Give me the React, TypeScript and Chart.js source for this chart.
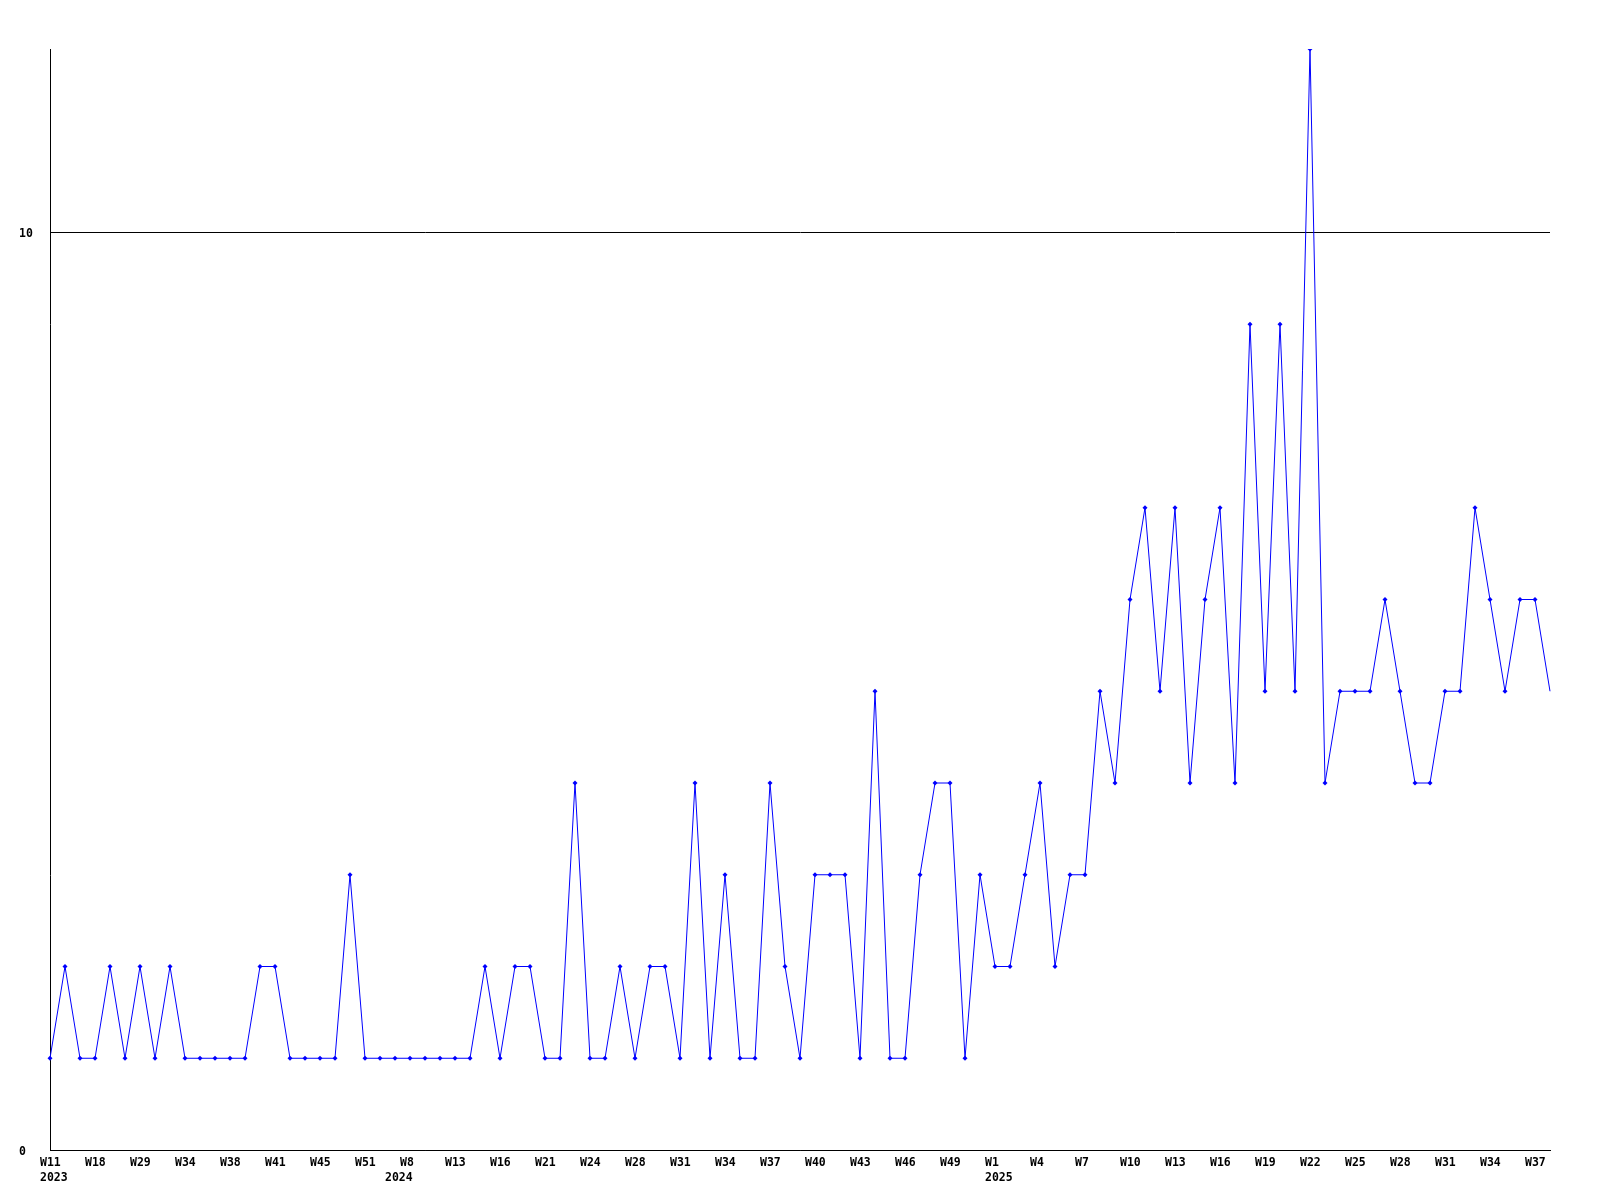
import { useEffect, useRef } from 'react';
import { Chart, registerables } from 'chart.js';

Chart.register(...registerables);

// Weekly counts, one per plotted point (101 points)
const values: number[] = [
  1, 2, 1, 1, 2, 1, 2, 1, 2, 1,
  1, 1, 1, 1, 2, 2, 1, 1, 1, 1,
  3, 1, 1, 1, 1, 1, 1, 1, 1, 2,
  1, 2, 2, 1, 1, 4, 1, 1, 2, 1,
  2, 2, 1, 4, 1, 3, 1, 1, 4, 2,
  1, 3, 3, 3, 1, 5, 1, 1, 3, 4,
  4, 1, 3, 2, 2, 3, 4, 2, 3, 3,
  5, 4, 6, 7, 5, 7, 4, 6, 7, 4,
  9, 5, 9, 5, 12, 4, 5, 5, 5, 6,
  5, 4, 4, 5, 5, 7, 6, 5, 6, 6,
  5,
];

// Week tick labels, shown on every third point
const weekTicks: string[] = [
  'W11', 'W18', 'W29', 'W34', 'W38', 'W41', 'W45', 'W51', 'W8', 'W13',
  'W16', 'W21', 'W24', 'W28', 'W31', 'W34', 'W37', 'W40', 'W43', 'W46',
  'W49', 'W1', 'W4', 'W7', 'W10', 'W13', 'W16', 'W19', 'W22', 'W25',
  'W28', 'W31', 'W34', 'W37',
];
const weekTickEvery = 3;

// Year labels and the first point of each year
const yearLabels: string[] = ['2023', '2024', '2025'];
const yearFirstPoint: number[] = [0, 23, 63];

const yMin = 0;
const yMax = 12;
const yStep = 10;

const FONT = { family: '"DejaVu Sans Mono", "Liberation Mono", monospace', size: 11.5, weight: 'bold' as const, lineHeight: 1.3 };

export default function App() {
  const ref = useRef<HTMLCanvasElement>(null);

  useEffect(() => {
    const categories = values.map((_, i) => String(i));
    const lastIndex = values.length - 1;
    const chart = new Chart(ref.current as HTMLCanvasElement, {
      type: 'line',
      data: {
        labels: categories,
        datasets: [
          {
            data: values,
            borderColor: '#0000ff',
            borderWidth: 1,
            backgroundColor: '#0000ff',
            pointStyle: 'rectRot',
            pointRadius: (c: any) => (c.dataIndex === lastIndex ? 0 : 2.5),
            pointBackgroundColor: '#0000ff',
            pointBorderColor: '#0000ff',
            pointBorderWidth: 0,
            tension: 0,
            fill: false,
          },
        ],
      },
      options: {
        animation: false,
        responsive: false,
        devicePixelRatio: 1,
        layout: { padding: { left: 19, top: 49, right: 50, bottom: 0 } },
        plugins: { legend: { display: false }, tooltip: { enabled: false } },
        scales: {
          x: {
            type: 'category',
            offset: false,
            grid: { display: false, drawTicks: false },
            border: { display: true, color: '#000000', width: 1 },
            ticks: {
              autoSkip: false,
              maxRotation: 0,
              minRotation: 0,
              align: 'start',
              labelOffset: -10,
              padding: 6,
              color: '#000000',
              font: FONT,
              callback: (_v: any, i: number) => {
                const w = i % weekTickEvery === 0 ? weekTicks[i / weekTickEvery] ?? '' : '';
                const yi = yearFirstPoint.indexOf(i);
                const y = yi >= 0 ? yearLabels[yi] : '';
                if (!w && !y) return '';
                return [w, y];
              },
            },
            afterFit: (s: any) => {
              s.height = 50;
            },
          },
          y: {
            min: yMin,
            max: yMax,
            grid: { color: '#000000', lineWidth: 1, drawTicks: false },
            border: { display: true, color: '#000000', width: 1 },
            ticks: {
              stepSize: yStep,
              includeBounds: false,
              crossAlign: 'far',
              padding: 17,
              labelOffset: 2,
              color: '#000000',
              font: FONT,
            },
            afterFit: (s: any) => {
              s.width = 31;
            },
          },
        },
      },
    });
    return () => chart.destroy();
  }, []);

  return (
    <canvas
      ref={ref}
      width={1600}
      height={1200}
      style={{ position: 'fixed', left: 0, top: 0, width: 1600, height: 1200, background: '#ffffff' }}
    />
  );
}
